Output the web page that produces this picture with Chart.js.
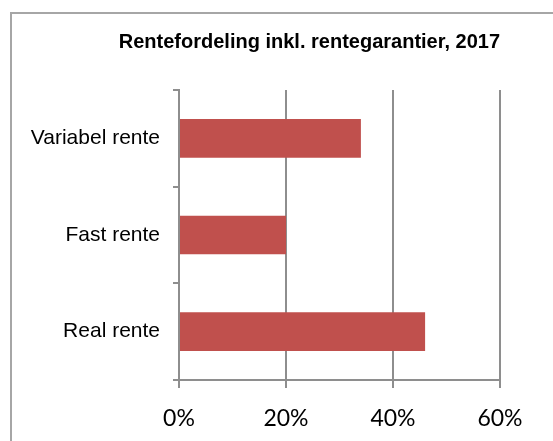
<!DOCTYPE html>
<html>
<head>
<meta charset="utf-8">
<script src="https://cdn.jsdelivr.net/npm/chart.js@4"></script>
<style>
  html, body { margin: 0; padding: 0; background: #fff; overflow: hidden; }
  .frame {
    position: absolute; left: 10px; top: 12px;
    width: 600px; height: 500px;
    border: 2px solid #a6a6a6;
  }
  #wrap { position: absolute; left: 0; top: 0; width: 553px; height: 441px; }
</style>
</head>
<body>
<div class="frame"></div>
<div id="wrap"><canvas id="chart" width="553" height="441"></canvas></div>
<script>
const categories = ["Variabel rente", "Fast rente", "Real rente"];
const shares = [34, 20, 46];
const xTicks = [0, 20, 40, 60];

const gridGray = "#8e8e8e";

new Chart(document.getElementById("chart"), {
  type: "bar",
  data: {
    labels: categories,
    datasets: [
      {
        data: shares,
        backgroundColor: "#C0504D",
        borderWidth: 0,
        barPercentage: 0.4,
        categoryPercentage: 1,
      },
    ],
  },
  options: {
    indexAxis: "y",
    responsive: false,
    animation: false,
    layout: { padding: { left: 0, right: 53, top: 0, bottom: 0 } },
    plugins: {
      legend: { display: false },
      tooltip: { enabled: false },
      title: {
        display: true,
        text: "Rentefordeling inkl. rentegarantier, 2017",
        align: "end",
        color: "#000",
        font: { family: "Liberation Sans, Arial", size: 20, weight: "bold" },
        padding: { top: 30, bottom: 36 },
      },
    },
    scales: {
      x: {
        min: 0,
        max: 60,
        afterBuildTicks: (scale) => {
          scale.ticks = xTicks.map((v) => ({ value: v }));
        },
        afterFit: (scale) => {
          scale.height = 61;
        },
        grid: { color: gridGray, lineWidth: 2, tickLength: 8 },
        border: { color: gridGray, width: 2 },
        ticks: {
          color: "#000",
          padding: 17,
          font: { family: "Lato", size: 23 },
          callback: (v) => v + "%",
        },
      },
      y: {
        afterFit: (scale) => {
          scale.width = 179;
        },
        grid: {
          drawOnChartArea: false,
          color: gridGray,
          lineWidth: 2,
          tickLength: 6,
        },
        border: { color: gridGray, width: 2 },
        ticks: {
          color: "#000",
          padding: 13,
          font: { family: "Liberation Sans, Arial", size: 21 },
        },
      },
    },
  },
});
</script>
</body>
</html>
